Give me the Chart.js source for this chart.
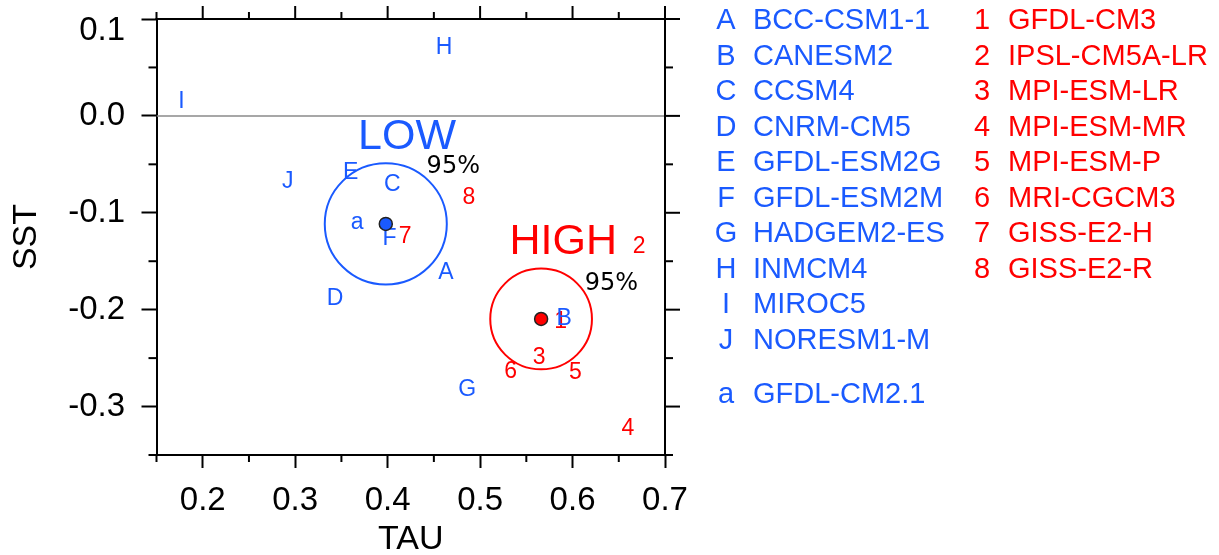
<!DOCTYPE html>
<html>
<head>
<meta charset="utf-8">
<script src="https://cdn.jsdelivr.net/npm/chart.js@4.4.1/dist/chart.umd.min.js"></script>
<style>
html,body{margin:0;padding:0;background:#fff;}
#wrap{width:1219px;height:555px;position:relative;}
</style>
</head>
<body>
<div id="wrap"><canvas id="c" width="1219" height="555"></canvas></div>
<script>
// ---- data ----
const lowModels = ['A','B','C','D','E','F','G','H','I','J','a'];
const lowNames = ['BCC-CSM1-1','CANESM2','CCSM4','CNRM-CM5','GFDL-ESM2G','GFDL-ESM2M','HADGEM2-ES','INMCM4','MIROC5','NORESM1-M','GFDL-CM2.1'];
const lowTAU = [0.463, 0.591, 0.405, 0.343, 0.360, 0.402, 0.486, 0.461, 0.177, 0.292, 0.367];
const lowSST = [-0.162, -0.2096, -0.071, -0.189, -0.059, -0.127, -0.283, 0.070, 0.015, -0.068, -0.1105];

const highModels = ['1','2','3','4','5','6','7','8'];
const highNames = ['GFDL-CM3','IPSL-CM5A-LR','MPI-ESM-LR','MPI-ESM-MR','MPI-ESM-P','MRI-CGCM3','GISS-E2-H','GISS-E2-R'];
const highTAU = [0.587, 0.672, 0.564, 0.660, 0.603, 0.533, 0.419, 0.488];
const highSST = [-0.212, -0.135, -0.250, -0.3225, -0.265, -0.264, -0.125, -0.084];

const groupNames = ['LOW','HIGH'];
const groupMeanTAU = [0.398, 0.566];
const groupMeanSST = [-0.1115, -0.2096];
const groupRadiusTAU = [0.066, 0.055];
const groupRadiusSST = [0.0625, 0.052];
const groupLabelTAU = [0.421, 0.590];
const groupLabelSST = [-0.022, -0.130];
const confText = '95%';
const confLabelTAU = [0.471, 0.642];
const confLabelSST = [-0.052, -0.173];

const xMajorTicks = [0.2, 0.3, 0.4, 0.5, 0.6, 0.7];
const xMinorTicks = [0.15, 0.25, 0.35, 0.45, 0.55, 0.65];
const yMajorTicks = [-0.3, -0.2, -0.1, 0.0, 0.1];
const yMinorTicks = [-0.35, -0.25, -0.15, -0.05, 0.05];
const xRange = [0.15, 0.7];
const yRange = [-0.35, 0.1];

// ---- styles ----
const BLUE = '#1a5aff';
const RED = '#ff0000';
const groupColors = [BLUE, RED];
const SANS = '"Liberation Sans", Arial, Helvetica, sans-serif';

const decor = {
  id: 'decor',
  beforeDatasetsDraw(chart) {
    const {ctx, scales: {x, y}} = chart;
    ctx.save();
    for (let g = 0; g < groupNames.length; g++) {
      const cx = x.getPixelForValue(groupMeanTAU[g]);
      const cy = y.getPixelForValue(groupMeanSST[g]);
      const rx = Math.abs(x.getPixelForValue(groupMeanTAU[g] + groupRadiusTAU[g]) - cx);
      const ry = Math.abs(y.getPixelForValue(groupMeanSST[g] + groupRadiusSST[g]) - cy);
      ctx.beginPath();
      ctx.ellipse(cx, cy, rx, ry, 0, 0, Math.PI * 2);
      ctx.strokeStyle = groupColors[g];
      ctx.lineWidth = 2;
      ctx.stroke();
    }
    ctx.restore();
  },
  afterDatasetDraw(chart, args) {
    const ds = chart.data.datasets[args.index];
    if (!ds.textLabels) return;
    const {ctx} = chart;
    ctx.save();
    ctx.font = '23px ' + SANS;
    ctx.textAlign = 'center';
    ctx.textBaseline = 'middle';
    ctx.fillStyle = ds.textColor;
    args.meta.data.forEach((el, i) => {
      ctx.fillText(ds.textLabels[i], el.x, el.y);
    });
    ctx.restore();
  },
  afterDatasetsDraw(chart) {
    const {ctx, scales: {x, y}} = chart;
    ctx.save();
    ctx.textAlign = 'center';
    ctx.textBaseline = 'middle';
    for (let g = 0; g < groupNames.length; g++) {
      ctx.font = '43px ' + SANS;
      ctx.fillStyle = groupColors[g];
      ctx.fillText(groupNames[g], x.getPixelForValue(groupLabelTAU[g]), y.getPixelForValue(groupLabelSST[g]));
      ctx.font = '24px "DejaVu Sans", sans-serif';
      ctx.fillStyle = '#000';
      ctx.fillText(confText, x.getPixelForValue(confLabelTAU[g]), y.getPixelForValue(confLabelSST[g]));
    }
    ctx.restore();
  },
  afterDraw(chart) {
    const {ctx, chartArea: a, scales: {x, y}} = chart;
    ctx.save();
    ctx.strokeStyle = '#000';
    ctx.lineWidth = 2;
    ctx.lineCap = 'butt';
    const line = (x1, y1, x2, y2) => { ctx.beginPath(); ctx.moveTo(x1, y1); ctx.lineTo(x2, y2); ctx.stroke(); };
    // top and right frame
    line(a.left - 1, a.top, a.right + 1, a.top);
    line(a.right, a.top - 1, a.right, a.bottom + 1);
    // x ticks
    xMajorTicks.forEach(v => { const px = x.getPixelForValue(v); line(px, a.top, px, a.top - 13); });
    xMinorTicks.forEach(v => { const px = x.getPixelForValue(v); line(px, a.top, px, a.top - 7); line(px, a.bottom, px, a.bottom + 7); });
    // y ticks
    yMajorTicks.forEach(v => { const py = y.getPixelForValue(v); line(a.right, py, a.right + 15, py); });
    yMinorTicks.forEach(v => { const py = y.getPixelForValue(v); line(a.right, py, a.right + 8, py); line(a.left, py, a.left - 8, py); });
    ctx.restore();

    // legend
    ctx.save();
    ctx.font = '29px ' + SANS;
    ctx.textBaseline = 'middle';
    const top = 21, step = 35.5, gap = 18.6;
    lowModels.forEach((m, i) => {
      const yy = top + i * step + (i >= 10 ? gap : 0);
      ctx.fillStyle = BLUE;
      ctx.textAlign = 'center';
      ctx.fillText(m, 726, yy);
      ctx.textAlign = 'left';
      ctx.fillText(lowNames[i], 753, yy);
    });
    highModels.forEach((m, i) => {
      const yy = top + i * step;
      ctx.fillStyle = RED;
      ctx.textAlign = 'center';
      ctx.fillText(m, 982, yy);
      ctx.textAlign = 'left';
      ctx.fillText(highNames[i], 1008, yy);
    });
    ctx.restore();
  }
};

const tickFont = {family: SANS, size: 33, lineHeight: 0.75};
const titleFont = {family: SANS, size: 34, lineHeight: 0.9};

new Chart(document.getElementById('c'), {
  type: 'scatter',
  data: {
    datasets: [
      {
        label: 'mean', order: 1,
        data: groupMeanTAU.map((v, i) => ({x: v, y: groupMeanSST[i]})),
        pointRadius: 6.5, pointBackgroundColor: groupColors, pointBorderColor: '#222', pointBorderWidth: 1.5
      },
      {
        label: 'low', order: 2, textLabels: lowModels, textColor: BLUE,
        data: lowTAU.map((v, i) => ({x: v, y: lowSST[i]})), pointRadius: 0
      },
      {
        label: 'high', order: 3, textLabels: highModels, textColor: RED,
        data: highTAU.map((v, i) => ({x: v, y: highSST[i]})), pointRadius: 0
      },
      {
        label: 'zero', order: 4, type: 'line',
        data: [{x: xRange[0], y: 0}, {x: xRange[1], y: 0}],
        borderColor: '#8a8a8a', borderWidth: 1.5, pointRadius: 0, fill: false
      }
    ]
  },
  options: {
    responsive: false,
    animation: false,
    layout: {padding: {left: 0, top: 19, right: 554, bottom: 0}},
    plugins: {legend: {display: false}, tooltip: {enabled: false}},
    scales: {
      x: {
        type: 'linear', position: 'bottom', min: xRange[0], max: xRange[1],
        afterBuildTicks: s => { s.ticks = xMajorTicks.map(v => ({value: v})); },
        afterFit: s => { s.height = 100; s.paddingLeft = 0; s.paddingRight = 0; },
        ticks: {callback: v => Number(v).toFixed(1), font: tickFont, color: '#000', padding: 21, maxRotation: 0, autoSkip: false},
        grid: {display: true, drawOnChartArea: false, drawTicks: true, tickLength: 13, tickWidth: 2, tickColor: '#000'},
        border: {display: true, color: '#000', width: 2},
        title: {display: true, text: 'TAU', font: titleFont, color: '#000', padding: {top: 0, bottom: 0}}
      },
      y: {
        type: 'linear', position: 'left', min: yRange[0], max: yRange[1],
        afterBuildTicks: s => { s.ticks = yMajorTicks.map(v => ({value: v})); },
        afterFit: s => { s.width = 156.5; s.paddingTop = 0; s.paddingBottom = 0; },
        ticks: {
          callback: (v) => { const t = Math.abs(v) < 1e-9 ? '0.0' : Number(v).toFixed(1); return Math.abs(v - yRange[1]) < 1e-9 ? ['', t] : t; },
          font: tickFont, color: '#000', padding: 16.5, autoSkip: false
        },
        grid: {display: true, drawOnChartArea: false, drawTicks: true, tickLength: 15, tickWidth: 2, tickColor: '#000'},
        border: {display: true, color: '#000', width: 2},
        title: {display: true, text: 'SST', font: titleFont, color: '#000', padding: {top: 11, bottom: 0}}
      }
    }
  },
  plugins: [decor]
});
</script>
</body>
</html>
